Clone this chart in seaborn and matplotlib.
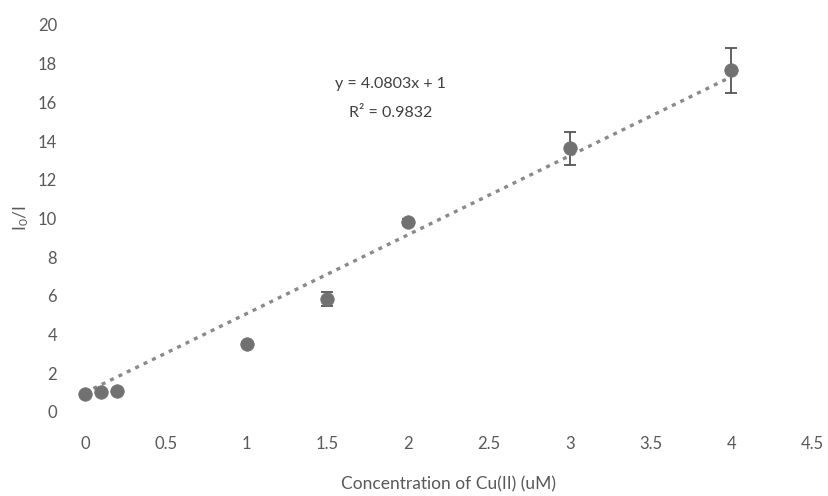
import matplotlib
matplotlib.use("Agg")
import matplotlib.pyplot as plt
import seaborn as sns
import numpy as np
import pandas as pd

# Measured quenching data
concentration = [0, 0.1, 0.2, 1, 1.5, 2, 3, 4]
ratio = [0.95, 1.03, 1.08, 3.5, 5.85, 9.8, 13.62, 17.65]
ratio_err = [0.05, 0.06, 0.08, 0.1, 0.35, 0.15, 0.83, 1.15]

# Linear trend (intercept fixed at 1)
slope = 4.0803
intercept = 1.0
r_squared = 0.9832
trend_x = [0, 4]

x_ticks = [0, 0.5, 1, 1.5, 2, 2.5, 3, 3.5, 4, 4.5]
y_ticks = [0, 2, 4, 6, 8, 10, 12, 14, 16, 18, 20]

sns.set_theme(style="white")
plt.rcParams["font.family"] = ["Lato", "DejaVu Sans"]
plt.rcParams["mathtext.fontset"] = "custom"
plt.rcParams["mathtext.rm"] = "Lato"
plt.rcParams["mathtext.it"] = "Lato"

df = pd.DataFrame({"conc": concentration, "ratio": ratio, "err": ratio_err})
trend = pd.DataFrame({"x": trend_x,
                      "y": [slope * v + intercept for v in trend_x]})

fig = plt.figure(figsize=(8.29, 4.96), dpi=100)
ax = fig.add_axes([0.1025, 0.1694, 0.877, 0.7802])

sns.lineplot(data=trend, x="x", y="y", ax=ax, color="#8a8a8a",
             linestyle=(0, (1.2, 1.6)), linewidth=2.4, zorder=2)
ax.errorbar(df["conc"], df["ratio"], yerr=df["err"], fmt="none",
            ecolor="#555555", elinewidth=1.3, capsize=4, capthick=1.3,
            zorder=3, clip_on=False)
sns.scatterplot(data=df, x="conc", y="ratio", ax=ax, color="#717171",
                s=95, edgecolor="#717171", linewidth=0.5, zorder=4,
                clip_on=False)

ax.set_xlim(0, 4.5)
ax.set_ylim(0, 20)
ax.set_xticks(x_ticks)
ax.set_xticklabels([f"{t:g}" for t in x_ticks])
ax.set_yticks(y_ticks)
ax.set_yticklabels([str(t) for t in y_ticks])
ax.tick_params(axis="both", length=0, labelsize=12, colors="#595959")
ax.tick_params(axis="x", pad=17)
ax.tick_params(axis="y", pad=20)
for s in ax.spines.values():
    s.set_visible(False)
ax.grid(False)

ax.set_xlabel("Concentration of Cu(II) (uM)", fontsize=12.5,
              color="#595959", labelpad=18)
ax.set_ylabel(r"I$_0$/I", fontsize=12.5, color="#595959", labelpad=5)

ax.text(1.89, 16.95, f"y = {slope}x + {intercept:g}", ha="center",
        va="center", fontsize=11.5, color="#404040")
ax.text(1.89, 15.45, f"R² = {r_squared}", ha="center", va="center",
        fontsize=11.5, color="#404040")

fig.savefig("out.png", dpi=100)
